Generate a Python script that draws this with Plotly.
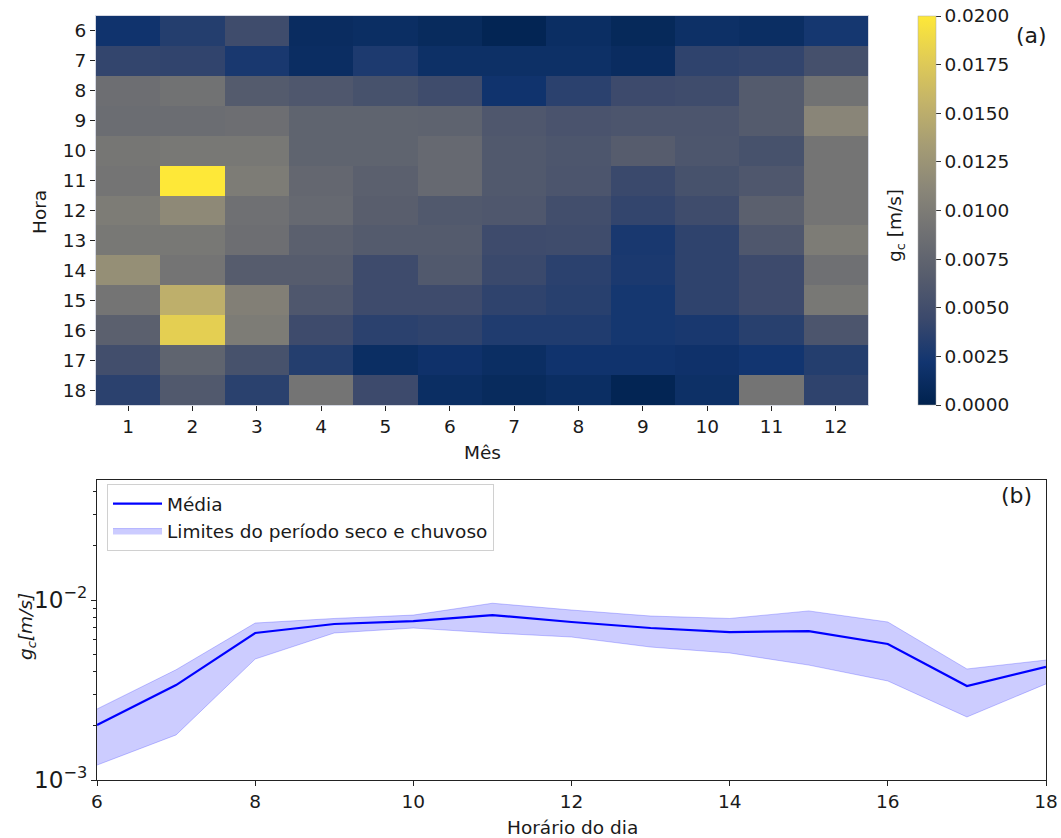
import plotly.graph_objects as go

W, H = 1061, 838

months = [1, 2, 3, 4, 5, 6, 7, 8, 9, 10, 11, 12]
hours = [6, 7, 8, 9, 10, 11, 12, 13, 14, 15, 16, 17, 18]

# g_c [m/s] per hour (rows) and month (columns)
gc_h06 = [0.0020, 0.0032, 0.0048, 0.0012, 0.0014, 0.0010, 0.0004, 0.0014, 0.0008, 0.0016, 0.0014, 0.0024]
gc_h07 = [0.0040, 0.0039, 0.0026, 0.0013, 0.0028, 0.0016, 0.0016, 0.0016, 0.0012, 0.0038, 0.0040, 0.0052]
gc_h08 = [0.0086, 0.0090, 0.0064, 0.0060, 0.0054, 0.0048, 0.0020, 0.0036, 0.0046, 0.0048, 0.0064, 0.0090]
gc_h09 = [0.0084, 0.0084, 0.0086, 0.0074, 0.0074, 0.0073, 0.0060, 0.0056, 0.0058, 0.0058, 0.0064, 0.0110]
gc_h10 = [0.0094, 0.0096, 0.0096, 0.0074, 0.0074, 0.0080, 0.0062, 0.0059, 0.0066, 0.0059, 0.0054, 0.0092]
gc_h11 = [0.0092, 0.0200, 0.0100, 0.0078, 0.0070, 0.0080, 0.0062, 0.0058, 0.0044, 0.0054, 0.0060, 0.0092]
gc_h12 = [0.0100, 0.0114, 0.0088, 0.0080, 0.0068, 0.0062, 0.0060, 0.0050, 0.0040, 0.0048, 0.0070, 0.0092]
gc_h13 = [0.0096, 0.0096, 0.0086, 0.0070, 0.0064, 0.0064, 0.0047, 0.0048, 0.0026, 0.0038, 0.0060, 0.0100]
gc_h14 = [0.0120, 0.0092, 0.0066, 0.0066, 0.0047, 0.0062, 0.0044, 0.0036, 0.0027, 0.0038, 0.0046, 0.0088]
gc_h15 = [0.0092, 0.0152, 0.0104, 0.0060, 0.0047, 0.0047, 0.0038, 0.0034, 0.0024, 0.0038, 0.0046, 0.0096]
gc_h16 = [0.0070, 0.0180, 0.0100, 0.0047, 0.0036, 0.0038, 0.0030, 0.0030, 0.0024, 0.0026, 0.0034, 0.0058]
gc_h17 = [0.0050, 0.0074, 0.0054, 0.0032, 0.0014, 0.0018, 0.0014, 0.0020, 0.0020, 0.0018, 0.0022, 0.0032]
gc_h18 = [0.0036, 0.0062, 0.0035, 0.0092, 0.0046, 0.0014, 0.0010, 0.0014, 0.0004, 0.0016, 0.0092, 0.0038]

cbar_ticks = [0.0, 0.0025, 0.005, 0.0075, 0.01, 0.0125, 0.015, 0.0175, 0.02]

# Bottom panel: daily cycle
hour_of_day = [6, 7, 8, 9, 10, 11, 12, 13, 14, 15, 16, 17, 18]
mean_gc = [0.00202, 0.00337, 0.00656, 0.00736, 0.00764, 0.00825, 0.00755, 0.00699, 0.00664, 0.00672, 0.00570, 0.00333, 0.00425]
upper_gc = [0.00248, 0.00410, 0.00745, 0.00790, 0.00825, 0.00960, 0.00880, 0.00815, 0.00790, 0.00870, 0.00755, 0.00414, 0.00464]
lower_gc = [0.00121, 0.00178, 0.00470, 0.00656, 0.00699, 0.00656, 0.00623, 0.00548, 0.00508, 0.00435, 0.00355, 0.00224, 0.00342]

z = [gc_h06, gc_h07, gc_h08, gc_h09, gc_h10, gc_h11, gc_h12,
     gc_h13, gc_h14, gc_h15, gc_h16, gc_h17, gc_h18]


def px_x(p):
    return p / W


def px_y(p):
    return 1 - p / H


FONT = "DejaVu Sans"
FS = 18.5
TXT = "#1a1a1a"
fig = go.Figure()

fig.add_trace(go.Heatmap(
    x=months, y=hours, z=z,
    colorscale="Cividis", zmin=0, zmax=0.02,
    xaxis="x", yaxis="y",
    colorbar=dict(
        x=px_x(918), xanchor="left", xref="paper",
        y=px_y(16), yanchor="top", yref="paper",
        len=389, lenmode="pixels",
        thickness=18, thicknessmode="pixels",
        xpad=0, ypad=0,
        tickvals=cbar_ticks, tickformat=".4f", tickprefix="\u00a0\u00a0",
        ticks="outside", ticklen=5, tickcolor="#333",
        outlinewidth=0.5, outlinecolor="#aaa",
        tickfont=dict(family=FONT, size=FS, color=TXT),
    ),
    showscale=True,
))

fig.add_trace(go.Scatter(
    x=hour_of_day, y=lower_gc, mode="lines",
    line=dict(color="rgba(0,0,255,0.22)", width=1),
    showlegend=False, hoverinfo="skip",
    xaxis="x2", yaxis="y2",
))
fig.add_trace(go.Scatter(
    x=hour_of_day, y=upper_gc, mode="lines",
    line=dict(color="rgba(0,0,255,0.22)", width=1),
    fill="tonexty", fillcolor="rgba(0,0,255,0.2)",
    name="Limites do período seco e chuvoso",
    xaxis="x2", yaxis="y2",
))
fig.add_trace(go.Scatter(
    x=hour_of_day, y=mean_gc, mode="lines",
    line=dict(color="#0000ff", width=2.2),
    name="Média",
    xaxis="x2", yaxis="y2",
))

axis_common = dict(
    showline=True, mirror=True, linewidth=1,
    ticks="outside", ticklen=5, tickcolor="#222",
    showgrid=False, zeroline=False, automargin=False,
    tickfont=dict(family=FONT, size=FS, color=TXT),
)

fig.update_layout(
    width=W, height=H,
    margin=dict(l=0, r=0, t=0, b=0),
    paper_bgcolor="white", plot_bgcolor="white",
    font=dict(family=FONT, size=FS, color=TXT),
    xaxis=dict(
        domain=[px_x(96), px_x(868)], anchor="y",
        tickvals=months, range=[0.5, 12.5], linecolor="#d5d8e2",
        **axis_common,
    ),
    yaxis=dict(
        domain=[px_y(405), px_y(16)], anchor="x",
        tickvals=hours, range=[18.5, 5.5], linecolor="#d5d8e2",
        **axis_common,
    ),
    xaxis2=dict(
        domain=[px_x(97), px_x(1046)], anchor="y2",
        range=[6, 18], tickvals=[6, 8, 10, 12, 14, 16, 18], linecolor="#222",
        **axis_common,
    ),
    yaxis2=dict(
        domain=[px_y(780), px_y(480)], anchor="x2",
        type="log", range=[-3, -1.333], linecolor="#222",
        dtick=1, exponentformat="power",
        minor=dict(ticks="outside", ticklen=3, tickcolor="#222", dtick="D1"),
        **axis_common,
    ),
    legend=dict(
        x=px_x(107), y=px_y(484), xanchor="left", yanchor="top",
        bgcolor="rgba(255,255,255,0.8)", bordercolor="#d0d0d0", borderwidth=1,
        font=dict(family=FONT, size=FS, color=TXT),
        traceorder="reversed", tracegroupgap=2, itemwidth=49,
    ),
)

ann = [
    ("(a)", 1031, 35, 0, 22),
    ("(b)", 1016, 495, 0, 22),
    ("g<sub>c</sub> [m/s]", 896, 226, -90, FS),
    ("Mês", 482, 452, 0, FS),
    ("Hora", 40, 212, -90, FS),
    ("Horário do dia", 572, 827, 0, FS),
    ("<i>g</i><sub><i>c</i></sub><i>[m/s]</i>", 27, 627, -90, FS),
]
for text, ax_, ay_, ang, size in ann:
    fig.add_annotation(
        text=text, x=px_x(ax_), y=px_y(ay_), xref="paper", yref="paper",
        xanchor="center", yanchor="middle", showarrow=False, textangle=ang,
        font=dict(family=FONT, size=size, color=TXT),
    )

fig.write_html("out.html")
